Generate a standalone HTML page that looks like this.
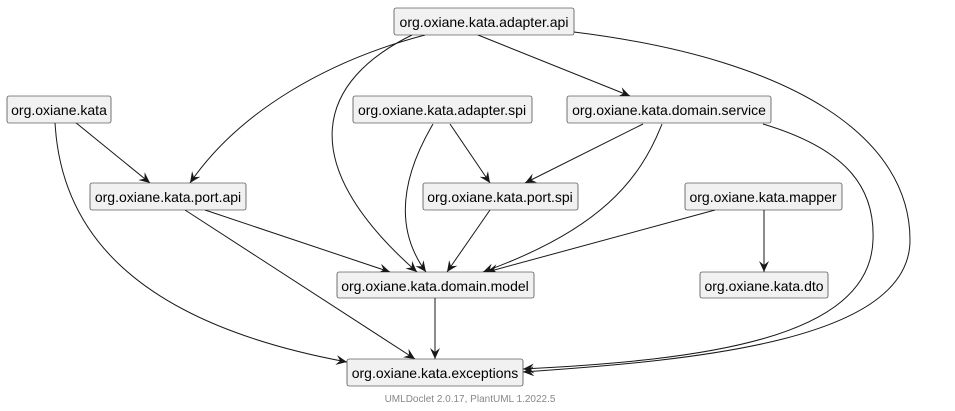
<!DOCTYPE html>
<html><head><meta charset="utf-8"><style>
html,body{margin:0;padding:0;background:#fff;}
svg{display:block}
text{font-family:"Liberation Sans",sans-serif;font-size:14px;fill:#000}
</style></head><body>
<svg width="955" height="411" viewBox="0 0 955 411" xmlns="http://www.w3.org/2000/svg">
<defs>
<marker id="a" markerWidth="12" markerHeight="12" refX="11" refY="5" orient="auto" markerUnits="userSpaceOnUse">
<path d="M0,0 L11,5 L0,10 L4,5 z" fill="#181818"/>
</marker>
</defs>
<g fill="none" stroke="#181818" stroke-width="1" marker-end="url(#a)">
<path d="M425,35 C330,60 240,110 190,183"/>
<path d="M412,35 C320,80 290,160 417,272"/>
<path d="M478,35 L630,96"/>
<path d="M574,32 C800,60 910,140 910,240 C910,340 700,360 523,372"/>
<path d="M75,122 L150,183"/>
<path d="M55,122 C60,220 120,320 347,362"/>
<path d="M433,124 C400,180 395,230 426,272"/>
<path d="M450,124 L490,183"/>
<path d="M643,124 L525,183"/>
<path d="M662,124 C640,180 600,230 483,272"/>
<path d="M763,124 C850,150 875,190 873,240 C870,340 700,360 523,369"/>
<path d="M185,210 L415,359"/>
<path d="M205,210 L390,272"/>
<path d="M490,210 L447,272"/>
<path d="M715,210 L487,272"/>
<path d="M764,210 L764,272"/>
<path d="M435,298 L435,359"/>
</g>
<g fill="#f1f1f1" stroke="#181818" stroke-width="0.6">
<rect x="394" y="8" width="180" height="27" rx="2"/>
<rect x="7" y="96" width="104" height="27" rx="2"/>
<rect x="353" y="96" width="179" height="27" rx="2"/>
<rect x="567" y="96" width="204" height="27" rx="2"/>
<rect x="90" y="183" width="156" height="27" rx="2"/>
<rect x="423" y="183" width="155" height="27" rx="2"/>
<rect x="685" y="183" width="157" height="27" rx="2"/>
<rect x="337" y="272" width="197" height="26" rx="2"/>
<rect x="700" y="272" width="128" height="26" rx="2"/>
<rect x="347" y="359" width="176" height="27" rx="2"/>
</g>
<text x="484" y="27" text-anchor="middle">org.oxiane.kata.adapter.api</text>
<text x="59" y="115" text-anchor="middle">org.oxiane.kata</text>
<text x="442" y="115" text-anchor="middle">org.oxiane.kata.adapter.spi</text>
<text x="669" y="115" text-anchor="middle">org.oxiane.kata.domain.service</text>
<text x="168" y="202" text-anchor="middle">org.oxiane.kata.port.api</text>
<text x="500" y="202" text-anchor="middle">org.oxiane.kata.port.spi</text>
<text x="763" y="202" text-anchor="middle">org.oxiane.kata.mapper</text>
<text x="435" y="291" text-anchor="middle">org.oxiane.kata.domain.model</text>
<text x="764" y="291" text-anchor="middle">org.oxiane.kata.dto</text>
<text x="435" y="378" text-anchor="middle">org.oxiane.kata.exceptions</text>
<text x="470" y="402" text-anchor="middle" style="font-size:10px;fill:#888">UMLDoclet 2.0.17, PlantUML 1.2022.5</text>
</svg>
</body></html>
